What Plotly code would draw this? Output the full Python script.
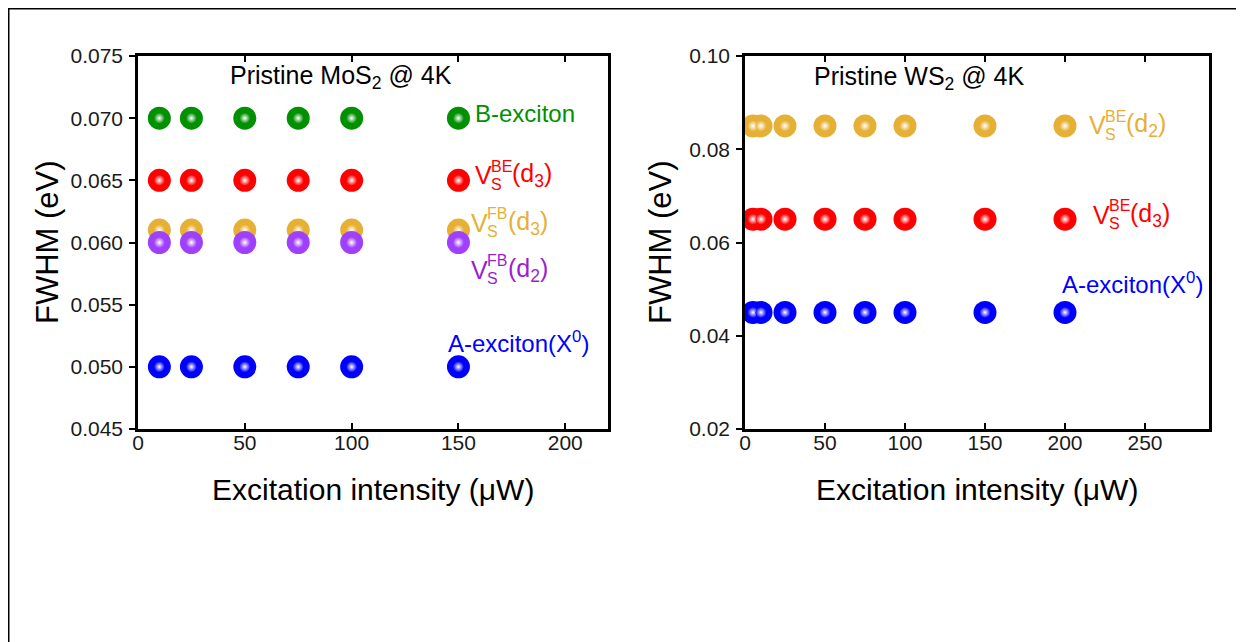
import plotly.graph_objects as go

# ---------------- data ----------------
mos2_x = [10, 25, 50, 75, 100, 150]
mos2_b_exciton = [0.070, 0.070, 0.070, 0.070, 0.070, 0.070]
mos2_vbe_d3 = [0.065, 0.065, 0.065, 0.065, 0.065, 0.065]
mos2_vfb_d3 = [0.061, 0.061, 0.061, 0.061, 0.061, 0.061]
mos2_vfb_d2 = [0.060, 0.060, 0.060, 0.060, 0.060, 0.060]
mos2_a_exciton = [0.050, 0.050, 0.050, 0.050, 0.050, 0.050]

ws2_x = [5, 10, 25, 50, 75, 100, 150, 200]
ws2_vbe_d2 = [0.085, 0.085, 0.085, 0.085, 0.085, 0.085, 0.085, 0.085]
ws2_vbe_d3 = [0.065, 0.065, 0.065, 0.065, 0.065, 0.065, 0.065, 0.065]
ws2_a_exciton = [0.045, 0.045, 0.045, 0.045, 0.045, 0.045, 0.045, 0.045]

left_xticks = [0, 50, 100, 150, 200]
left_yticks = [0.045, 0.050, 0.055, 0.060, 0.065, 0.070, 0.075]
right_xticks = [0, 50, 100, 150, 200, 250]
right_yticks = [0.02, 0.04, 0.06, 0.08, 0.10]

x_title = "Excitation intensity (\u03bcW)"
y_title = "FWHM (eV)"

GREEN = "#009000"
RED = "#FF0000"
GOLD = "#E6B035"
PURPLE = "#A040FF"
BLUE = "#0000FF"
PURPLE_TXT = "#9A1FD0"

FONT = "Arial, 'Liberation Sans', sans-serif"

fig = go.Figure()


def add_series(x, y, color, xa, ya):
    fig.add_trace(go.Scatter(
        x=x, y=y, mode="markers", xaxis=xa, yaxis=ya, showlegend=False,
        marker=dict(size=23, color=color, line=dict(width=0)),
        hoverinfo="x+y"))
    fig.add_trace(go.Scatter(
        x=x, y=y, mode="markers", xaxis=xa, yaxis=ya, showlegend=False,
        marker=dict(size=11, color=color, line=dict(width=0),
                    gradient=dict(type="radial", color="white")),
        hoverinfo="skip"))


# left panel (MoS2)
add_series(mos2_x, mos2_b_exciton, GREEN, "x", "y")
add_series(mos2_x, mos2_vbe_d3, RED, "x", "y")
add_series(mos2_x, mos2_vfb_d3, GOLD, "x", "y")
add_series(mos2_x, mos2_vfb_d2, PURPLE, "x", "y")
add_series(mos2_x, mos2_a_exciton, BLUE, "x", "y")

# right panel (WS2)
add_series(ws2_x, ws2_vbe_d2, GOLD, "x2", "y2")
add_series(ws2_x, ws2_vbe_d3, RED, "x2", "y2")
add_series(ws2_x, ws2_a_exciton, BLUE, "x2", "y2")

annotations = []


def text(xref, yref, x, y, s, color, size=24, xanchor="left", xshift=0, yshift=0):
    annotations.append(dict(
        xref=xref, yref=yref, x=x, y=y, text=s, showarrow=False,
        xanchor=xanchor, yanchor="middle", xshift=xshift, yshift=yshift,
        font=dict(family=FONT, size=size, color=color)))


def vlabel(xref, yref, x, y, sup, d, color):
    text(xref, yref, x, y, "V", color, 25)
    text(xref, yref, x, y, sup, color, 16, xshift=16, yshift=9)
    text(xref, yref, x, y, "S", color, 16, xshift=16, yshift=-9)
    text(xref, yref, x, y, "(d<sub>%s</sub>)" % d, color, 25, xshift=37)


# left annotations
text("x", "y", 42, 0.0733, "Pristine MoS<sub>2</sub> @ 4K", "black", 25)
text("x", "y", 157, 0.0704, "B-exciton", GREEN, 24)
vlabel("x", "y", 157, 0.0654, "BE", "3", RED)
vlabel("x", "y", 155, 0.0616, "FB", "3", GOLD)
vlabel("x", "y", 155, 0.0578, "FB", "2", PURPLE_TXT)
text("x", "y", 144, 0.0520, "A-exciton(X<sup>0</sup>)", BLUE, 24)

# right annotations
text("x2", "y2", 42, 0.0953, "Pristine WS<sub>2</sub> @ 4K", "black", 25)
vlabel("x2", "y2", 214, 0.0852, "BE", "2", GOLD)
vlabel("x2", "y2", 216, 0.0659, "BE", "3", RED)
text("x2", "y2", 197, 0.0513, "A-exciton(X<sup>0</sup>)", BLUE, 24)

# ---------------- layout geometry (page px; page body has 8px offset) ----------------
OFF = 8
W, H = 1244 - OFF, 642 - OFF
L, T = 138 - OFF, 56 - OFF
R = W - (1209 - OFF)
B = H - (429 - OFF)
PW, PH = W - L - R, H - T - B


def px(xp):
    return (xp - OFF - L) / PW


def py(yp):
    return (H - B - (yp - OFF)) / PH


for xc in (373, 977):
    annotations.append(dict(xref="paper", yref="paper", x=px(xc), y=py(490), text=x_title,
                            showarrow=False, xanchor="center", yanchor="middle",
                            font=dict(family=FONT, size=30, color="black")))
for xc in (47, 660):
    annotations.append(dict(xref="paper", yref="paper", x=px(xc), y=py(242), text=y_title,
                            showarrow=False, xanchor="center", yanchor="middle", textangle=-90,
                            font=dict(family=FONT, size=31, color="black")))

tickfont = dict(family=FONT, size=21, color="#1a1a1a")
xcommon = dict(showline=True, linecolor="black", linewidth=2.5, mirror="ticks",
               ticks="inside", ticklen=6, tickwidth=2, tickcolor="black",
               showgrid=False, zeroline=False, automargin=False,
               tickfont=tickfont, ticklabelstandoff=-7)
ycommon = dict(showline=True, linecolor="black", linewidth=2.5, mirror=True,
               ticks="outside", ticklen=6, tickwidth=2, tickcolor="black",
               showgrid=False, zeroline=False, automargin=False,
               tickfont=tickfont, ticklabelstandoff=2)
ymirror = dict(showline=False, ticks="inside", ticklen=6, tickwidth=2, tickcolor="black",
               showgrid=False, zeroline=False, showticklabels=False, automargin=False,
               side="right")

fig.update_layout(
    width=W, height=H,
    margin=dict(l=L, r=R, t=T, b=B),
    plot_bgcolor="white", paper_bgcolor="white",
    showlegend=False,
    annotations=annotations,
    xaxis=dict(domain=[0, px(608)], range=[0, 220], tickvals=left_xticks, anchor="y", **xcommon),
    yaxis=dict(domain=[0, 1], range=[0.045, 0.075], tickvals=left_yticks,
               tickformat=".3f", anchor="x", **ycommon),
    yaxis3=dict(domain=[0, 1], range=[0.045, 0.075], tickvals=left_yticks,
                overlaying="y", anchor="x", **ymirror),
    xaxis2=dict(domain=[px(745), 1], range=[0, 290], tickvals=right_xticks,
                anchor="y2", **xcommon),
    yaxis2=dict(domain=[0, 1], range=[0.02, 0.10], tickvals=right_yticks,
                tickformat=".2f", anchor="x2", **ycommon),
    yaxis4=dict(domain=[0, 1], range=[0.02, 0.10], tickvals=right_yticks,
                overlaying="y2", anchor="x2", **ymirror),
    shapes=[
        dict(type="line", xref="paper", yref="paper", x0=px(7), x1=px(1244), y0=py(8.5), y1=py(8.5),
             line=dict(color="black", width=2)),
        dict(type="line", xref="paper", yref="paper", x0=px(8.5), x1=px(8.5), y0=py(7), y1=py(642),
             line=dict(color="black", width=2)),
    ],
)

fig.write_html("out.html")
